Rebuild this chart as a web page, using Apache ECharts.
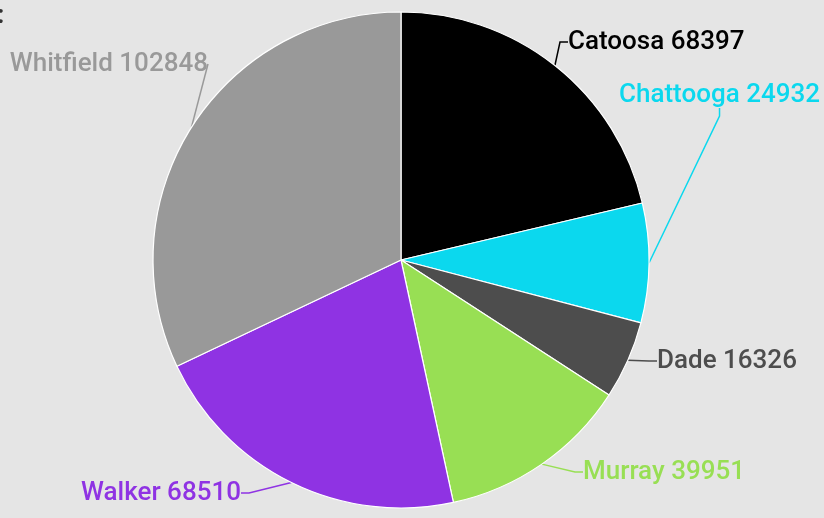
<!DOCTYPE html>
<html>
<head>
<meta charset="utf-8">
<script src="https://cdn.jsdelivr.net/npm/echarts@6/dist/echarts.min.js"></script>
<style>
  html, body { margin: 0; padding: 0; background: #e5e5e5; }
  #main { width: 824px; height: 518px; }
</style>
</head>
<body>
<div id="main"></div>
<script>
var counties = ['Catoosa', 'Chattooga', 'Dade', 'Murray', 'Walker', 'Whitfield'];
var population = [68397, 24932, 16326, 39951, 68510, 102848];
var colors = ['#000000', '#0bd8ee', '#4d4d4d', '#98df54', '#8f33e3', '#999999'];

// where each label sits (text anchor), by slice
var labelPos = [
    { x: 568, y: 42, align: 'left' },
    { x: 619, y: 95, align: 'left' },
    { x: 657, y: 361, align: 'left' },
    { x: 583, y: 472, align: 'left' },
    { x: 241, y: 493, align: 'right' },
    { x: 208, y: 64, align: 'right' }
];

var myChart = echarts.init(document.getElementById('main'));
var option = {
    backgroundColor: '#e5e5e5',
    color: colors,
    animation: false,
    graphic: [{
        type: 'text',
        left: -3,
        top: 3,
        style: { text: ':', fontSize: 26, fontFamily: 'Roboto', fill: '#333', fontWeight: 'bold' }
    }],
    series: [{
        type: 'pie',
        center: [401, 260],
        radius: [0, 248],
        startAngle: 90,
        clockwise: true,
        avoidLabelOverlap: false,
        itemStyle: { borderColor: '#ffffff', borderWidth: 1.2 },
        label: {
            show: true,
            formatter: '{b} {c}',
            fontFamily: 'Roboto',
            fontSize: 26,
            fontWeight: 500,
            color: 'inherit'
        },
        labelLine: {
            show: true,
            length: 10,
            length2: 8,
            lineStyle: { width: 1.5 }
        },
        labelLayout: function (params) {
            var p = labelPos[params.dataIndex];
            return { x: p.x, y: p.y, align: p.align, verticalAlign: 'middle' };
        },
        data: counties.map(function (name, i) {
            return { name: name, value: population[i] };
        })
    }]
};
myChart.setOption(option);

window.onresize = function () {
    myChart.resize();
};
</script>
</body>
</html>
